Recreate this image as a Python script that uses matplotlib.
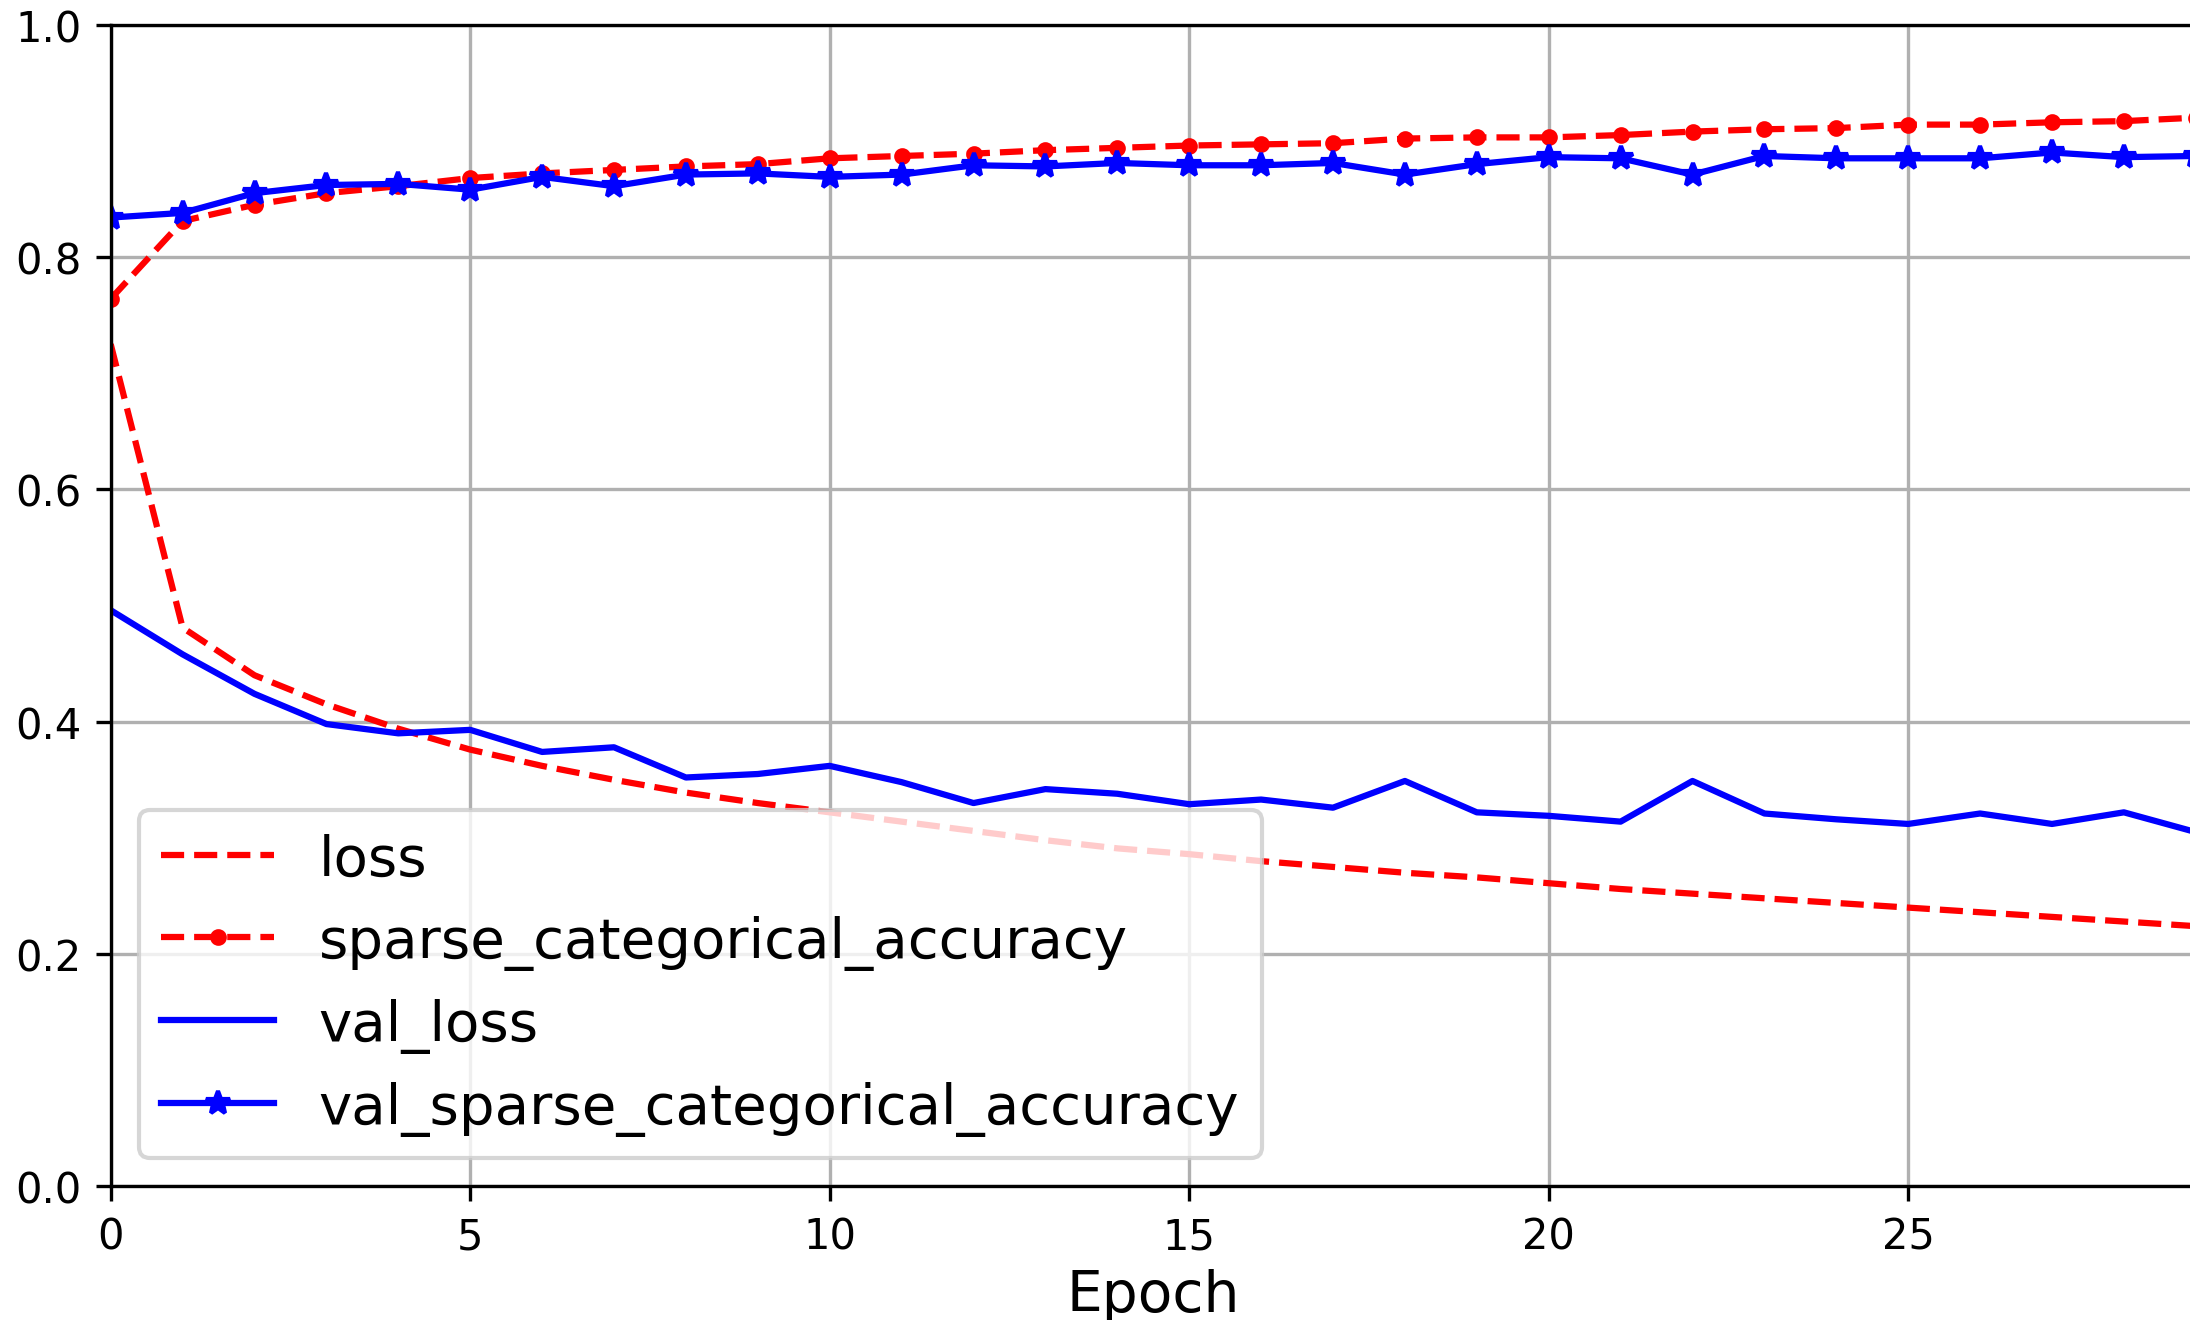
import numpy as np
import matplotlib
matplotlib.use("Agg")
import matplotlib.pyplot as plt

epochs = np.arange(30)

loss = [0.725, 0.481, 0.440, 0.415, 0.394, 0.376, 0.362, 0.350, 0.339, 0.330,
        0.322, 0.314, 0.306, 0.298, 0.291, 0.286, 0.280, 0.275, 0.270, 0.266,
        0.261, 0.256, 0.252, 0.248, 0.244, 0.240, 0.236, 0.232, 0.228, 0.224]
acc = [0.764, 0.831, 0.845, 0.855, 0.861, 0.868, 0.872, 0.875, 0.878, 0.880,
       0.885, 0.887, 0.889, 0.892, 0.894, 0.896, 0.897, 0.898, 0.902, 0.903,
       0.903, 0.905, 0.908, 0.910, 0.911, 0.914, 0.914, 0.916, 0.917, 0.920]
val_loss = [0.496, 0.458, 0.424, 0.398, 0.390, 0.393, 0.374, 0.378, 0.352, 0.355,
            0.362, 0.348, 0.330, 0.342, 0.338, 0.329, 0.333, 0.326, 0.349, 0.322,
            0.319, 0.314, 0.349, 0.321, 0.316, 0.312, 0.321, 0.312, 0.322, 0.305]
val_acc = [0.834, 0.838, 0.855, 0.862, 0.863, 0.858, 0.869, 0.861, 0.871, 0.872,
           0.869, 0.871, 0.879, 0.878, 0.881, 0.879, 0.879, 0.881, 0.871, 0.880,
           0.886, 0.885, 0.871, 0.887, 0.885, 0.885, 0.885, 0.890, 0.886, 0.887]

plt.rc('xtick', labelsize=10)
plt.rc('ytick', labelsize=10)

fig = plt.figure(figsize=(7.3, 4.4033), dpi=300)
# axes run a little past the right edge, like the cropped original
ax = fig.add_axes([110.7/2190, (1321-1187.4)/1321, (2195.8-110.7)/2190, (1187.4-25.7)/1321])

ax.plot(epochs, loss, 'r--', label='loss')
ax.plot(epochs, acc, 'r--.', label='sparse_categorical_accuracy')
ax.plot(epochs, val_loss, 'b-', label='val_loss')
ax.plot(epochs, val_acc, 'b-*', label='val_sparse_categorical_accuracy')

ax.set_xlim([0, 29])
ax.set_ylim([0, 1])
ax.grid(True)
ax.set_xlabel('Epoch', fontsize=13.6, labelpad=2.5)
ax.legend(loc='lower left', fontsize=13.5)

fig.savefig('out.png', dpi=300)
